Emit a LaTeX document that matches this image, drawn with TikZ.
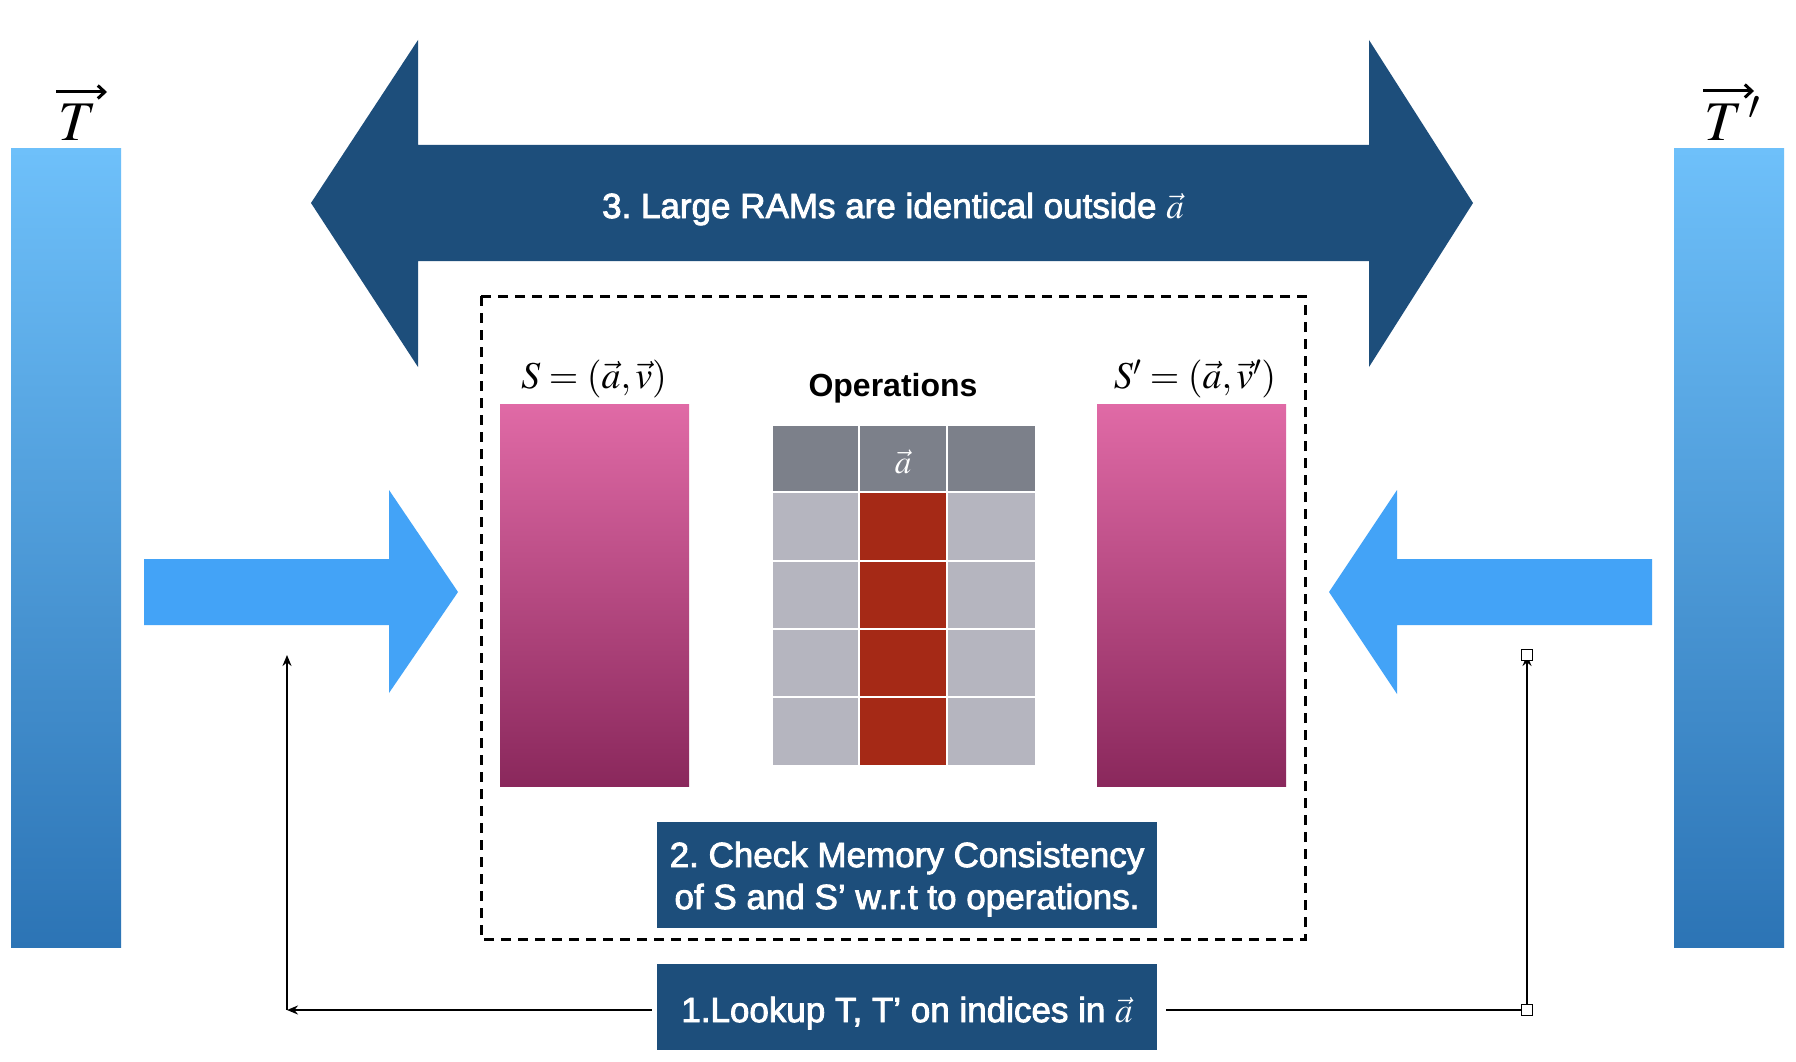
\documentclass[tikz,border=0pt]{standalone}
\usepackage{mathptmx}
\usepackage{fontspec}
\setmainfont{Liberation Sans}
\newfontfamily\medfont[FakeBold=2.5]{Liberation Sans}
\usetikzlibrary{arrows.meta,calc}
\definecolor{darkblue}{HTML}{1D4E7B}
\definecolor{lightblue}{HTML}{43A3F7}
\definecolor{bartop}{HTML}{6EC0FA}
\definecolor{barbot}{HTML}{2C74B5}
\definecolor{pinktop}{HTML}{E06AA6}
\definecolor{pinkbot}{HTML}{8A285C}
\definecolor{hdrgray}{HTML}{7C808A}
\definecolor{cellgray}{HTML}{B5B5BF}
\definecolor{cellred}{HTML}{A52916}
\tikzset{
  stepbox/.style={fill=darkblue, inner sep=0pt, minimum width=500pt},
  steptext/.style={text=white, inner sep=0pt, align=center,
    font=\medfont\fontsize{35}{42}\selectfont},
  cellbox/.style={draw=white, line width=1.5pt},
  link/.style={line width=2pt, draw=black},
  tipstyle/.style={-{Stealth[length=11pt,width=9pt]}},
  vecarrow/.style={line width=3pt, -{Straight Barb[length=7pt,width=13pt,line width=3pt]}},
  handle/.style={draw=black, fill=white, line width=1pt, minimum size=11pt, inner sep=0pt},
  mathlabel/.style={inner sep=0pt, font=\fontsize{38}{42}\selectfont}
}
\begin{document}
\frenchspacing
\begin{tikzpicture}[x=1pt,y=-1pt]
\useasboundingbox (0,0) rectangle (1796,1062);
\fill[white] (0,0) rectangle (1796,1062);

% side bars T and T'
\shade[top color=bartop, bottom color=barbot] (11,149) rectangle (121,947);
\shade[top color=bartop, bottom color=barbot] (1674,149) rectangle (1784,947);
\node[inner sep=0pt, anchor=base west, font=\fontsize{56}{60}\selectfont] (tlab) at (58,140) {$T$};
\node[inner sep=0pt, anchor=base west, font=\fontsize{56}{60}\selectfont] (tplab) at (1704,140) {$T\,'$};
\coordinate (tva) at (56,92);
\coordinate (tvb) at (107,92);
\coordinate (tpva) at (1703,91);
\coordinate (tpvb) at (1754,91);
\draw[vecarrow] (tva) -- (tvb);
\draw[vecarrow] (tpva) -- (tpvb);

% big double arrow
\fill[darkblue] (311,203) -- (418,40) -- (418,145) -- (1369,145) -- (1369,40) -- (1473,203)
  -- (1369,367) -- (1369,261) -- (418,261) -- (418,367) -- cycle;
\node[steptext] (title) at (893,209)
  {3. Large RAMs are identical outside $\vec{a}$};

% light blue arrows
\fill[lightblue] (144,559) -- (389,559) -- (389,490) -- (458,592) -- (389,693) -- (389,625) -- (144,625) -- cycle;
\fill[lightblue] (1652,559) -- (1397,559) -- (1397,490) -- (1329,592) -- (1397,694) -- (1397,625) -- (1652,625) -- cycle;

% dashed box
\draw[line width=3pt, dash pattern=on 10pt off 7pt] (481,296) rectangle (1305,939);

% S and S'
\shade[top color=pinktop, bottom color=pinkbot] (500,404) rectangle (689,786);
\shade[top color=pinktop, bottom color=pinkbot] (1097,404) rectangle (1286,786);
\node[mathlabel] (slab) at (594,379) {$S=(\vec{a},\vec{v})$};
\node[mathlabel] (splab) at (1195,379) {$S'=(\vec{a},\vec{v}')$};

% operations table
\node[inner sep=0pt, font=\bfseries\fontsize{32}{36}\selectfont] (ops) at (893,388) {Operations};
\foreach \xa/\xb in {772/859, 859/947, 947/1036} {
  \filldraw[cellbox, fill=hdrgray] (\xa,425) rectangle (\xb,492);
}
\foreach \ya/\yb in {492/561, 561/629, 629/697, 697/766} {
  \filldraw[cellbox, fill=cellgray] (772,\ya) rectangle (859,\yb);
  \filldraw[cellbox, fill=cellred] (859,\ya) rectangle (947,\yb);
  \filldraw[cellbox, fill=cellgray] (947,\ya) rectangle (1036,\yb);
}
\node[text=white, inner sep=0pt, font=\fontsize{33}{36}\selectfont] (ahdr) at (903,462) {$\vec{a}$};

% step boxes
\node[stepbox, minimum height=106pt] (check) at (907,875) {};
\node[steptext] (checktext) at ($(check.center)+(0,4)$)
  {2. Check Memory Consistency\\of S and S’ w.r.t to operations.};
\node[stepbox, minimum height=86pt] (lookup) at (907,1007) {};
\node[steptext] (lookuptext) at ($(lookup.center)+(0,6)$)
  {1.Lookup T, T’ on indices in $\vec{a}$};

% connectors
\coordinate (lookupL) at ($(lookup.west)+(-5,3)$);
\coordinate (lookupR) at ($(lookup.east)+(9,3)$);
\coordinate (cl) at (287,1010);
\coordinate (tl) at (287,655);
\coordinate (cr) at (1527,1010);
\coordinate (tr) at (1527,655);
\draw[link, tipstyle] (lookupL) -- (cl);
\draw[link, tipstyle] (cl) -- (tl);
\draw[link] (lookupR) -- (cr);
\draw[link, tipstyle] (cr) -- (tr);
\node[handle] (hr1) at (cr) {};
\node[handle] (hr2) at (tr) {};
\end{tikzpicture}
\end{document}
